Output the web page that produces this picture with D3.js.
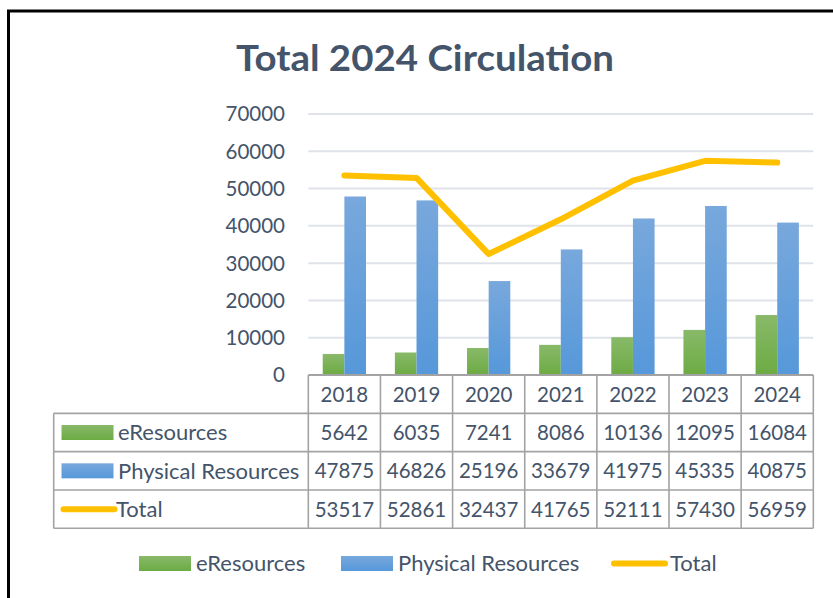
<!DOCTYPE html>
<html>
<head>
<meta charset="utf-8">
<script src="https://cdn.jsdelivr.net/npm/d3@7"></script>
<style>
  body { margin: 0; background: #fff; }
  svg text { font-family: Lato, "Open Sans", sans-serif; fill: #44546A; }
</style>
</head>
<body>
<svg id="chart"></svg>
<script>
const years = ["2018", "2019", "2020", "2021", "2022", "2023", "2024"]
const eResources = [5642, 6035, 7241, 8086, 10136, 12095, 16084]
const physical = [47875, 46826, 25196, 33679, 41975, 45335, 40875]
const total = [53517, 52861, 32437, 41765, 52111, 57430, 56959]
const seriesNames = ["eResources", "Physical Resources", "Total"]
const yTicks = [0, 10000, 20000, 30000, 40000, 50000, 60000, 70000]

const width = 833
const height = 598
const plot = {left: 308.3, right: 813.3, top: 114, bottom: 375}
const rowH = 38.33

const svg = d3.select('#chart')
  .attr("width", width)
  .attr("height", height)

// gradients like the spreadsheet fills
const defs = svg.append("defs")
function grad(id, top, bottom) {
  const g = defs.append("linearGradient")
    .attr("id", id).attr("x1", 0).attr("y1", 0).attr("x2", 0).attr("y2", 1)
  g.append("stop").attr("offset", "0%").attr("stop-color", top)
  g.append("stop").attr("offset", "100%").attr("stop-color", bottom)
}
grad("gGreen", "#89B969", "#6CAB43")
grad("gBlue", "#78A8DC", "#5698DA")
const fills = ["url(#gGreen)", "url(#gBlue)"]
const lineColor = "#FFC000"

// outer frame (runs past the window edges)
svg.append("rect")
  .attr("x", 8.5).attr("y", 11)
  .attr("width", 900).attr("height", 700)
  .attr("fill", "none")
  .attr("stroke", "#000")
  .attr("stroke-width", 3)

svg.append("text")
  .attr("x", 425)
  .attr("y", 71)
  .attr("text-anchor", "middle")
  .attr("textLength", 378)
  .attr("lengthAdjust", "spacingAndGlyphs")
  .style("font-size", "37px")
  .style("font-weight", "bold")
  .text("Total 2024 Circulation")

var x0 = d3.scaleBand()
  .domain(years)
  .range([plot.left, plot.right])
  .paddingInner(0.4)
  .paddingOuter(0.2)

var x1 = d3.scaleBand()
  .domain([0, 1])
  .range([0, x0.bandwidth()])

var y = d3.scaleLinear()
  .domain([0, 70000])
  .range([plot.bottom, plot.top])

// gridlines + tick labels
svg.append("g")
  .selectAll("line")
  .data(yTicks.filter(d => d > 0))
  .enter()
  .append("line")
    .attr("x1", plot.left)
    .attr("x2", plot.right)
    .attr("y1", d => y(d))
    .attr("y2", d => y(d))
    .attr("stroke", "#DFE3E9")
    .attr("stroke-width", 2)

svg.append("g")
  .selectAll("text")
  .data(yTicks)
  .enter()
  .append("text")
    .attr("x", 285)
    .attr("y", d => y(d))
    .attr("dy", "0.36em")
    .attr("text-anchor", "end")
    .style("font-size", "20.5px")
    .text(d => d)

// bars
const barSeries = [eResources, physical]
barSeries.forEach(function(vals, s) {
  svg.append("g")
    .selectAll("rect")
    .data(d3.zip(years, vals))
    .enter()
    .append("rect")
      .attr("x", d => x0(d[0]) + x1(s))
      .attr("width", x1.bandwidth())
      .attr("y", d => y(d[1]))
      .attr("height", d => y(0) - y(d[1]))
      .attr("fill", fills[s])
})

// total line
svg.append("path")
  .datum(d3.zip(years, total))
  .attr("fill", "none")
  .attr("stroke", lineColor)
  .attr("stroke-width", 6)
  .attr("stroke-linecap", "round")
  .attr("stroke-linejoin", "round")
  .attr("d", d3.line()
    .x(d => x0(d[0]) + x0.bandwidth() / 2)
    .y(d => y(d[1]))
  )

// data table
const step = x0.step()
const tbl = svg.append("g")
const gridCol = "#A3A3A3"
const tableLeft = 53.7
const rowTop = i => plot.bottom + rowH * i

// horizontal rules
tbl.append("line")
  .attr("x1", plot.left).attr("x2", plot.right)
  .attr("y1", rowTop(0)).attr("y2", rowTop(0))
  .attr("stroke", gridCol).attr("stroke-width", 2)
for (let i = 1; i <= 4; i++) {
  tbl.append("line")
    .attr("x1", tableLeft).attr("x2", plot.right)
    .attr("y1", rowTop(i)).attr("y2", rowTop(i))
    .attr("stroke", gridCol).attr("stroke-width", 1.6)
}
// vertical rules
tbl.append("line")
  .attr("x1", tableLeft).attr("x2", tableLeft)
  .attr("y1", rowTop(1)).attr("y2", rowTop(4))
  .attr("stroke", gridCol).attr("stroke-width", 1.6)
tbl.selectAll("line.v")
  .data(years.concat(["end"]))
  .enter()
  .append("line")
    .attr("class", "v")
    .attr("x1", (d, i) => plot.left + step * i)
    .attr("x2", (d, i) => plot.left + step * i)
    .attr("y1", rowTop(0))
    .attr("y2", rowTop(4))
    .attr("stroke", gridCol)
    .attr("stroke-width", 1.6)

// header row years
tbl.append("g")
  .selectAll("text")
  .data(years)
  .enter()
  .append("text")
    .attr("x", d => x0(d) + x0.bandwidth() / 2)
    .attr("y", rowTop(0) + rowH / 2)
    .attr("dy", "0.36em")
    .attr("text-anchor", "middle")
    .style("font-size", "20.5px")
    .text(d => d)

// value rows
const rows = [eResources, physical, total]
rows.forEach(function(vals, r) {
  tbl.append("g")
    .selectAll("text")
    .data(d3.zip(years, vals))
    .enter()
    .append("text")
      .attr("x", d => x0(d[0]) + x0.bandwidth() / 2)
      .attr("y", rowTop(r + 1) + rowH / 2)
      .attr("dy", "0.36em")
      .attr("text-anchor", "middle")
      .style("font-size", "20.5px")
      .text(d => d[1])
})

function legendKey(g, i, x, cy) {
  if (i < 2) {
    g.append("rect")
      .attr("x", x).attr("y", cy - 7.5)
      .attr("width", 52).attr("height", 15)
      .attr("fill", fills[i])
  } else {
    g.append("line")
      .attr("x1", x + 2).attr("x2", x + 53)
      .attr("y1", cy).attr("y2", cy)
      .attr("stroke", lineColor)
      .attr("stroke-width", 6)
      .attr("stroke-linecap", "round")
  }
}

// row labels with keys
seriesNames.forEach(function(name, i) {
  const cy = rowTop(i + 1) + rowH / 2
  legendKey(tbl, i, 61.5, cy)
  tbl.append("text")
    .attr("x", i < 2 ? 118 : 116)
    .attr("y", cy)
    .attr("dy", "0.36em")
    .style("font-size", "22px")
    .text(name)
})

// bottom legend
const legendX = [139, 341, 612]
const legendTextX = [196, 398, 670]
const leg = svg.append("g")
seriesNames.forEach(function(name, i) {
  legendKey(leg, i, legendX[i], 563.5)
  leg.append("text")
    .attr("x", legendTextX[i])
    .attr("y", 563.5)
    .attr("dy", "0.36em")
    .style("font-size", "22px")
    .text(name)
})
</script>
</body>
</html>
